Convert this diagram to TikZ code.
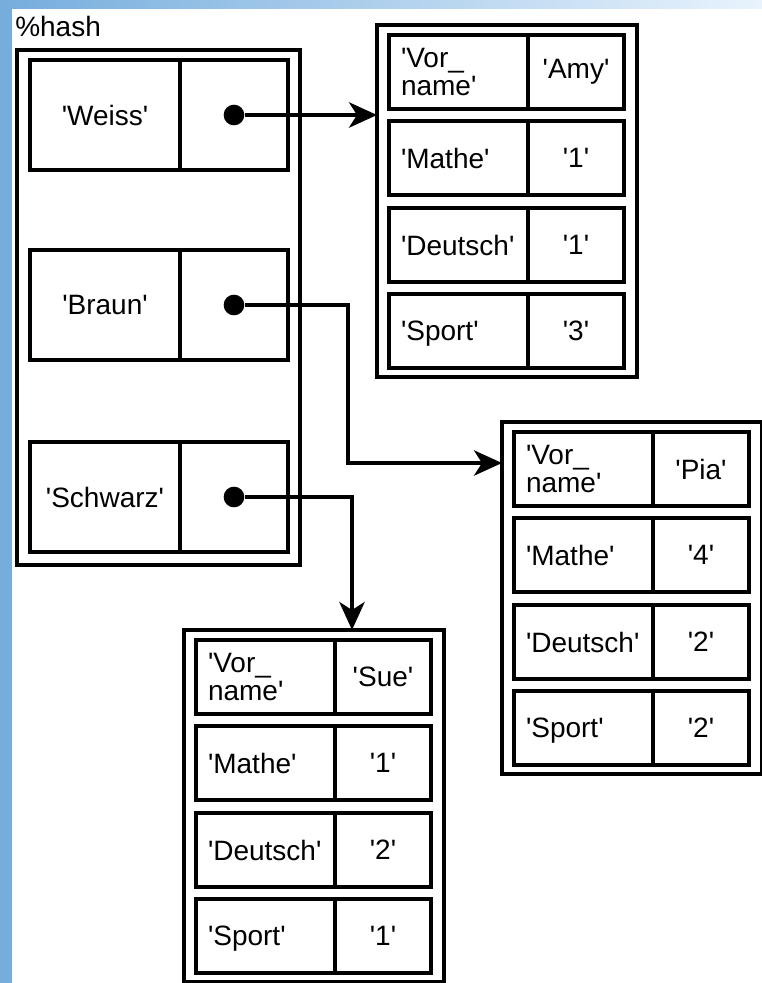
\documentclass[tikz,border=0pt]{standalone}
\usepackage{fontspec}
\usepackage{xcolor}
\usetikzlibrary{arrows.meta}

\newfontfamily\hashfont{Liberation Sans}
\newcommand\cellfont{\hashfont\fontsize{21}{21}\selectfont}
\definecolor{stripblue}{RGB}{117,173,221}
\definecolor{stripfade}{RGB}{233,243,253}

\begin{document}
\begin{tikzpicture}[x=0.75pt,y=0.75pt,yscale=-1,xscale=1,
  every node/.style={font=\cellfont},
  outerbox/.style={draw, line width=2.6pt, outer sep=0pt, inner sep=0pt, anchor=north west, minimum width=195pt, minimum height=264pt},
  namecell/.style={draw, line width=2.6pt, outer sep=0pt, anchor=north west, inner xsep=9pt, inner ysep=0pt, text width=86.25pt, align=left, minimum height=55.5pt},
  keycell/.style={namecell, text depth=0pt},
  valcell/.style={draw, line width=2.6pt, outer sep=0pt, inner sep=0pt, anchor=west, minimum width=72pt, minimum height=55.5pt},
  hashkey/.style={draw, line width=2.6pt, outer sep=0pt, inner sep=0pt, anchor=north west, minimum width=112.5pt, minimum height=82.5pt},
  hashval/.style={draw, line width=2.6pt, outer sep=0pt, inner sep=0pt, anchor=west, minimum width=81pt, minimum height=82.5pt},
  dot/.style={circle, fill, inner sep=0pt, minimum size=15.5pt},
  ptr/.style={line width=2.6pt, -{Stealth[length=21pt, width=19pt, inset=6pt]}}
]
\useasboundingbox (0,0) rectangle (762,983);

%Shape: Rectangle [left strip]
\fill[stripblue] (0,0) rectangle (12,983);
%Shape: Rectangle [top strip]
\shade[left color=stripblue, right color=stripfade] (0,0) rectangle (762,8);

% Text Node
\node[anchor=base west, inner sep=0pt] (hashlabel) at (15,36) {\%hash};

%Shape: Rectangle [hash]
\node[outerbox, minimum width=212.25pt, minimum height=386.25pt] (hash) at (17,50) {};
\node[hashkey] (hk1) at (30,60) {'Weiss'};
\node[hashval] (hv1) at (hk1.east) {};
\node[hashkey] (hk2) at (30,250) {'Braun'};
\node[hashval] (hv2) at (hk2.east) {};
\node[hashkey] (hk3) at (30,442) {'Schwarz'};
\node[hashval] (hv3) at (hk3.east) {};
\node[dot] (dotweiss) at (hv1.center) {};
\node[dot] (dotbraun) at (hv2.center) {};
\node[dot] (dotschwarz) at (hv3.center) {};

%Shape: Rectangle [Amy]
\node[outerbox] (amy) at (377,25) {};
\node[namecell] (amyk1) at (389,35) {'Vor\_\\name'};
\node[valcell] (amyv1) at (amyk1.east) {'Amy'};
\node[keycell] (amyk2) at (389,121) {'Mathe'};
\node[valcell] (amyv2) at (amyk2.east) {'1'};
\node[keycell] (amyk3) at (389,208) {'Deutsch'};
\node[valcell] (amyv3) at (amyk3.east) {'1'};
\node[keycell] (amyk4) at (389,294) {'Sport'};
\node[valcell] (amyv4) at (amyk4.east) {'3'};

%Shape: Rectangle [Pia]
\node[outerbox] (pia) at (502,422) {};
\node[namecell] (piak1) at (514,432) {'Vor\_\\name'};
\node[valcell] (piav1) at (piak1.east) {'Pia'};
\node[keycell] (piak2) at (514,518) {'Mathe'};
\node[valcell] (piav2) at (piak2.east) {'4'};
\node[keycell] (piak3) at (514,605) {'Deutsch'};
\node[valcell] (piav3) at (piak3.east) {'2'};
\node[keycell] (piak4) at (514,691) {'Sport'};
\node[valcell] (piav4) at (piak4.east) {'2'};

%Shape: Rectangle [Sue]
\node[outerbox] (sue) at (184,630) {};
\node[namecell] (suek1) at (196,640) {'Vor\_\\name'};
\node[valcell] (suev1) at (suek1.east) {'Sue'};
\node[keycell] (suek2) at (196,726) {'Mathe'};
\node[valcell] (suev2) at (suek2.east) {'1'};
\node[keycell] (suek3) at (196,813) {'Deutsch'};
\node[valcell] (suev3) at (suek3.east) {'2'};
\node[keycell] (suek4) at (196,899) {'Sport'};
\node[valcell] (suev4) at (suek4.east) {'1'};

%Straight Lines [pointers]
\coordinate (bendbraun) at (348,463);
\coordinate (bendschwarz) at (352,0);
\draw[ptr] (dotweiss) -- (dotweiss -| amy.west);
\draw[ptr] (dotbraun) -| (bendbraun) -- (bendbraun -| pia.west);
\draw[ptr] (dotschwarz) -| (bendschwarz |- sue.north);

\end{tikzpicture}
\end{document}
